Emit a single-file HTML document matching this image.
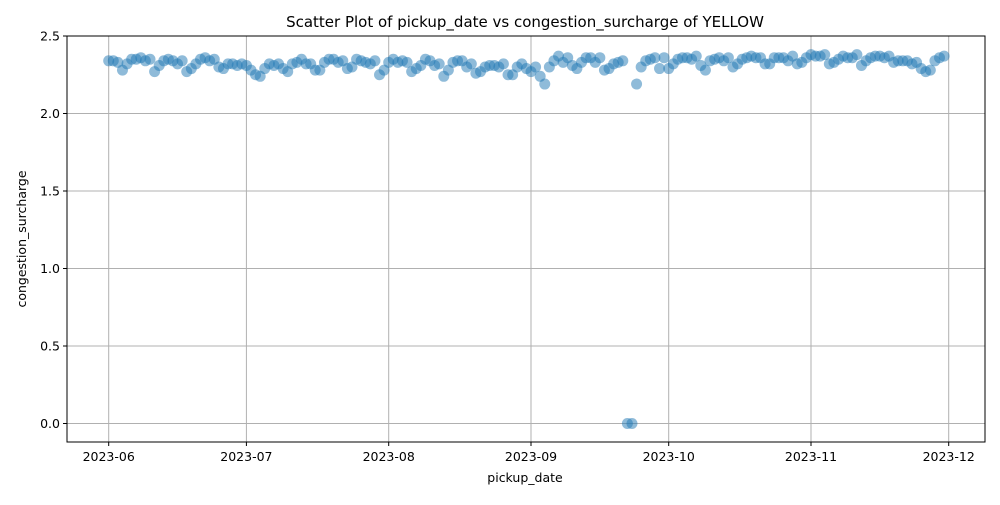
<!DOCTYPE html>
<html><head><meta charset="utf-8"><style>
body{margin:0;background:#fff;}
svg text{font-family:"DejaVu Sans","Liberation Sans",sans-serif;fill:#000;}
</style></head><body>
<svg id="chart" width="1000" height="500" viewBox="0 0 1000 500" xmlns="http://www.w3.org/2000/svg">
<rect width="1000" height="500" fill="#fff"/>
<g id="grid"></g><g id="pts"></g><g id="axes"></g>
<text x="525" y="27" font-size="15" text-anchor="middle">Scatter Plot of pickup_date vs congestion_surcharge of YELLOW</text>
<text x="525" y="482" font-size="12.5" text-anchor="middle">pickup_date</text>
<text transform="translate(26,239) rotate(-90)" font-size="12.5" text-anchor="middle">congestion_surcharge</text>
</svg>
<script>
const startDate = "2023-06-01";
const xTickLabels = ["2023-06","2023-07","2023-08","2023-09","2023-10","2023-11","2023-12"];
const xTickDays = [0,30,61,92,122,153,183];
const yTickValues = [0,0.5,1,1.5,2,2.5];
const junVals = [2.34,2.34,2.33,2.28,2.32,2.35,2.35,2.36,2.34,2.35,2.27,2.31,2.34,2.35,2.34,2.32,2.34,2.27,2.29,2.32,2.35,2.36,2.34,2.35,2.30,2.29,2.32,2.32,2.31,2.32];
const julVals = [2.31,2.28,2.25,2.24,2.29,2.32,2.31,2.32,2.29,2.27,2.32,2.33,2.35,2.32,2.32,2.28,2.28,2.33,2.35,2.35,2.33,2.34,2.29,2.30,2.35,2.34,2.33,2.32,2.34,2.25,2.28];
const augVals = [2.33,2.35,2.33,2.34,2.33,2.27,2.29,2.31,2.35,2.34,2.31,2.32,2.24,2.28,2.33,2.34,2.34,2.30,2.32,2.26,2.27,2.30,2.31,2.31,2.30,2.32,2.25,2.25,2.30,2.32,2.29];
const sepVals = [2.27,2.30,2.24,2.19,2.30,2.34,2.37,2.33,2.36,2.31,2.29,2.33,2.36,2.36,2.33,2.36,2.28,2.29,2.32,2.33,2.34,0,0,2.19,2.30,2.34,2.35,2.36,2.29,2.36];
const octVals = [2.29,2.32,2.35,2.36,2.36,2.35,2.37,2.31,2.28,2.34,2.35,2.36,2.34,2.36,2.30,2.32,2.35,2.36,2.37,2.36,2.36,2.32,2.32,2.36,2.36,2.36,2.34,2.37,2.32,2.33,2.36];
const novVals = [2.38,2.37,2.37,2.38,2.32,2.33,2.35,2.37,2.36,2.36,2.38,2.31,2.34,2.36,2.37,2.37,2.36,2.37,2.33,2.34,2.34,2.34,2.32,2.33,2.29,2.27,2.28,2.34,2.36,2.37];

const L=67,R=985,T=36,B=442;
function xScale(day){return 108.7+day*(948.7-108.7)/183;}
function yScale(v){return 423.5-v*155;}
const NS="http://www.w3.org/2000/svg";
function mk(tag,attrs,parent){const e=document.createElementNS(NS,tag);for(const k in attrs)e.setAttribute(k,attrs[k]);parent.appendChild(e);return e;}
const grid=document.getElementById('grid'),pts=document.getElementById('pts'),axes=document.getElementById('axes');
xTickDays.forEach((d,i)=>{
  const x=xScale(d);
  const g=mk('line',{x1:x,x2:x,y1:T,y2:B,stroke:'#b0b0b0','stroke-width':1},grid);
  
  
  mk('line',{x1:x,x2:x,y1:B,y2:B+4,stroke:'#000'},axes);
  const t=mk('text',{x:x,y:B+19,'font-size':12.5,'text-anchor':'middle'},axes);
  t.textContent=xTickLabels[i];
  
  
});
yTickValues.forEach(v=>{
  const y=yScale(v);
  const g=mk('line',{x1:L,x2:R,y1:y,y2:y,stroke:'#b0b0b0','stroke-width':1},grid);
  
  
  mk('line',{x1:L-4,x2:L,y1:y,y2:y,stroke:'#000'},axes);
  const t=mk('text',{x:L-7,y:y+4.5,'font-size':12.5,'text-anchor':'end'},axes);
  t.textContent=v.toFixed(1);
  
  
});
const frame=mk('rect',{x:L,y:T,width:R-L,height:B-T,fill:'none',stroke:'#000','stroke-width':1},axes);


const allVals=[].concat(junVals,julVals,augVals,sepVals,octVals,novVals);
allVals.forEach((v,d)=>{
  const c=mk('circle',{cx:xScale(d),cy:yScale(v),r:5.5,fill:'#1f77b4','fill-opacity':0.5},pts);
  
  
});
</script>
</body></html>
